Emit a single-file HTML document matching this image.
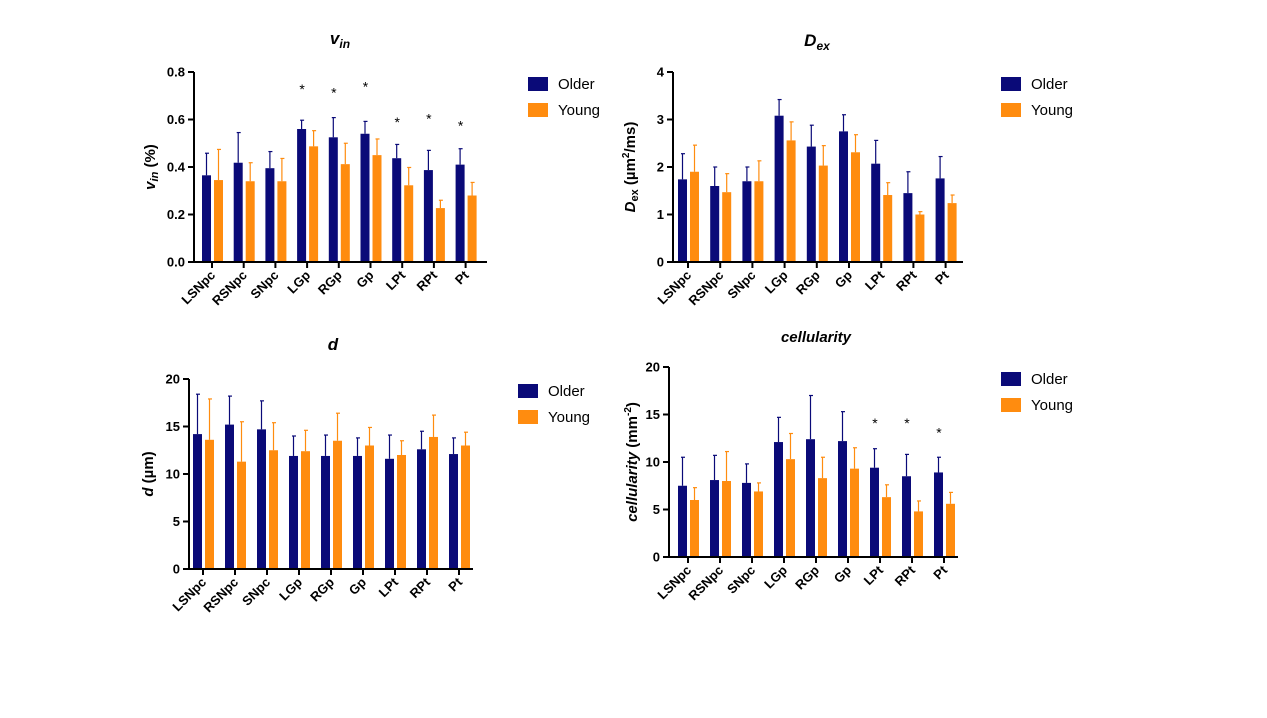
<!DOCTYPE html>
<html><head><meta charset="utf-8"><style>
body{margin:0;background:#fff;width:1267px;height:713px;overflow:hidden;font-family:"Liberation Sans",sans-serif}
svg text{font-family:"Liberation Sans",sans-serif}
</style></head><body>
<svg id="s" width="1267" height="713"></svg>
<script>
const categories=["LSNpc","RSNpc","SNpc","LGp","RGp","Gp","LPt","RPt","Pt"];
const vinOlder=[0.365,0.418,0.395,0.56,0.525,0.54,0.437,0.387,0.41];
const vinOlderErr=[0.458,0.545,0.465,0.597,0.608,0.592,0.495,0.47,0.477];
const vinYoung=[0.345,0.34,0.34,0.487,0.412,0.45,0.323,0.227,0.28];
const vinYoungErr=[0.474,0.418,0.436,0.553,0.5,0.518,0.398,0.26,0.335];
const vinStars=[null,null,null,0.725,0.71,0.735,0.585,0.6,0.57];
const vinTicks=["0.0","0.2","0.4","0.6","0.8"];
const dexOlder=[1.74,1.6,1.7,3.08,2.43,2.75,2.07,1.45,1.76];
const dexOlderErr=[2.28,2.0,2.0,3.42,2.88,3.1,2.56,1.9,2.22];
const dexYoung=[1.9,1.47,1.7,2.56,2.03,2.31,1.41,1.0,1.24];
const dexYoungErr=[2.46,1.86,2.13,2.95,2.45,2.68,1.67,1.06,1.41];
const dexTicks=["0","1","2","3","4"];
const dOlder=[14.2,15.2,14.7,11.9,11.9,11.9,11.6,12.6,12.1];
const dOlderErr=[18.4,18.2,17.7,14.0,14.1,13.8,14.1,14.5,13.8];
const dYoung=[13.6,11.3,12.5,12.4,13.5,13.0,12.0,13.9,13.0];
const dYoungErr=[17.9,15.5,15.4,14.6,16.4,14.9,13.5,16.2,14.4];
const dTicks=["0","5","10","15","20"];
const cOlder=[7.5,8.1,7.8,12.1,12.4,12.2,9.4,8.5,8.9];
const cOlderErr=[10.5,10.7,9.8,14.7,17.0,15.3,11.4,10.8,10.5];
const cYoung=[6.0,8.0,6.9,10.3,8.3,9.3,6.3,4.8,5.6];
const cYoungErr=[7.3,11.1,7.8,13.0,10.5,11.5,7.6,5.9,6.8];
const cStars=[null,null,null,null,null,null,14.0,14.0,13.0];
const cTicks=["0","5","10","15","20"];

const NS="http://www.w3.org/2000/svg";
const svg=document.getElementById('s');
function mk(tag,attrs,parent,txt){const e=document.createElementNS(NS,tag);for(const k in attrs)e.setAttribute(k,attrs[k]);if(txt!==undefined)e.innerHTML=txt;(parent||svg).appendChild(e);return e;}
const NAVY="#0a0a78",ORANGE="#ff8c0f";

function panel(p){
  const g=mk('g',{});
  
  
  const yMax=+p.ticks[p.ticks.length-1];
  const Y=v=>p.y0-(v/yMax)*(p.y0-p.yTop);
  const X=i=>p.x1+i*p.step;
  for(let i=0;i<categories.length;i++){
    const cx=X(i);
    [[p.older,p.olderErr,NAVY,cx-10,'older'],[p.young,p.youngErr,ORANGE,cx+2,'young']].forEach(([v,e,c,x,s])=>{
      const el=mk('line',{x1:x+4.5,x2:x+4.5,y1:Y(v[i]),y2:Y(e[i]),stroke:c,'stroke-width':1.2},g);
      
      
      const cap=mk('line',{x1:x+3,x2:x+7,y1:Y(e[i]),y2:Y(e[i]),stroke:c,'stroke-width':1.2},g);
      
      
      const r=mk('rect',{x:x,y:Y(v[i]),width:9,height:p.y0-Y(v[i]),fill:c},g);
      
      
    });
    if(p.stars&&p.stars[i]!=null){
      const st=mk('text',{x:cx-5,y:Y(p.stars[i])+4,'font-size':14,'text-anchor':'middle',fill:'#000'},g,'*');
      
      
    }
    const tk=mk('line',{x1:cx,x2:cx,y1:p.y0,y2:p.y0+6,stroke:'#000','stroke-width':2},g);
    
    
    const lb=mk('text',{x:cx+4,y:p.y0+14,'font-size':13,'font-weight':'bold','text-anchor':'end',transform:`rotate(-45 ${cx+4} ${p.y0+14})`},g,categories[i]);
    
    
  }
  const ya=mk('line',{x1:p.ax,x2:p.ax,y1:p.yTop,y2:p.y0+1,stroke:'#000','stroke-width':2},g);
  
  const xa=mk('line',{x1:p.ax-1,x2:p.xEnd,y1:p.y0,y2:p.y0,stroke:'#000','stroke-width':2},g);
  
  p.ticks.forEach(t=>{
    const y=Y(+t);
    const l=mk('line',{x1:p.ax-6,x2:p.ax,y1:y,y2:y,stroke:'#000','stroke-width':2},g);
    
    const tx=mk('text',{x:p.ax-9,y:y+4.5,'font-size':13,'font-weight':'bold','text-anchor':'end'},g,t);
    
  });
  const yl=mk('text',{x:p.ylx,y:(p.y0+p.yTop)/2,'font-size':15,'font-weight':'bold','text-anchor':'middle',transform:`rotate(-90 ${p.ylx} ${(p.y0+p.yTop)/2})`},g,p.ylabel);
  
  const ti=mk('text',{x:p.tx,y:p.ty,'font-size':p.tfs||17,'font-weight':'bold','font-style':'italic','text-anchor':'middle'},g,p.title);
  
  [['Older',NAVY,0],['Young',ORANGE,26]].forEach(([n,c,dy])=>{
    const r=mk('rect',{x:p.lx,y:p.ly+dy,width:20,height:14,fill:c},g);
    
    const t=mk('text',{x:p.lx+30,y:p.ly+dy+12,'font-size':15},g,n);
    
  });
}
panel({name:'vin',older:vinOlder,olderErr:vinOlderErr,young:vinYoung,youngErr:vinYoungErr,stars:vinStars,ticks:vinTicks,
  ax:194,y0:262,yTop:72,x1:212,step:31.7,xEnd:487,ylx:155,ylabel:'<tspan font-style="italic">v</tspan><tspan font-style="italic" font-size="11" dy="3">in</tspan><tspan dy="-3"> (%)</tspan>',
  title:'v<tspan font-size="12" dy="4">in</tspan>',tx:340,ty:44,lx:528,ly:77});
panel({name:'dex',older:dexOlder,olderErr:dexOlderErr,young:dexYoung,youngErr:dexYoungErr,ticks:dexTicks,
  ax:673,y0:262,yTop:72,x1:688,step:32.2,xEnd:963,ylx:635,ylabel:'<tspan font-style="italic">D</tspan><tspan font-size="11" dy="3">ex</tspan><tspan dy="-3"> (µm</tspan><tspan font-size="10" dy="-6">2</tspan><tspan dy="6">/ms)</tspan>',
  title:'D<tspan font-size="12" dy="4">ex</tspan>',tx:817,ty:46,lx:1001,ly:77});
panel({name:'d',older:dOlder,olderErr:dOlderErr,young:dYoung,youngErr:dYoungErr,ticks:dTicks,
  ax:189,y0:569,yTop:379,x1:203,step:32,xEnd:473,ylx:153,ylabel:'<tspan font-style="italic">d</tspan> (µm)',
  title:'d',tx:333,ty:350,lx:518,ly:384});
panel({name:'cellularity',older:cOlder,olderErr:cOlderErr,young:cYoung,youngErr:cYoungErr,stars:cStars,ticks:cTicks,
  ax:669,y0:557,yTop:367,x1:688,step:32,xEnd:958,ylx:637,ylabel:'<tspan font-style="italic">cellularity</tspan> (mm<tspan font-size="10" dy="-6">-2</tspan><tspan dy="6">)</tspan>',
  title:'cellularity',tfs:15,tx:816,ty:342,lx:1001,ly:372});
</script>
</body></html>
